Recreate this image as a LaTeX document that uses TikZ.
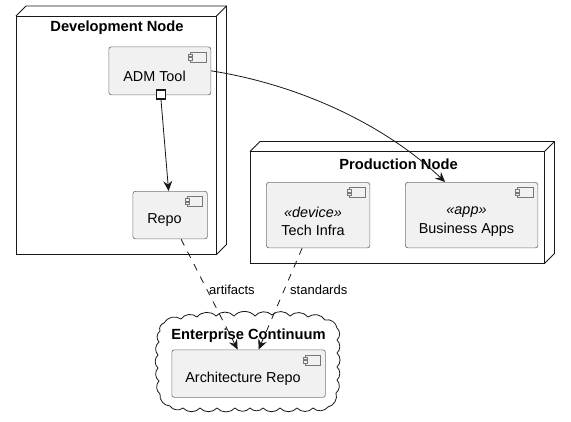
\documentclass[tikz,border=0pt]{standalone}
\usepackage{fontspec}
\setmainfont{Liberation Sans}
\usetikzlibrary{arrows.meta}
\definecolor{compfill}{HTML}{F1F1F1}
\definecolor{ink}{HTML}{181818}
\definecolor{edge}{HTML}{777777}
\tikzset{
  x=1pt,y=-1pt,
  comp/.style={draw=edge,fill=compfill,line width=0.7pt,rounded corners=2.5pt,inner sep=0pt,anchor=north west},
  ctext/.style={inner sep=0pt,font=\fontsize{14.4}{17}\selectfont},
  title/.style={inner sep=0pt,font=\fontsize{14.7}{17}\selectfont\bfseries},
  lab/.style={inner sep=0pt,font=\fontsize{13}{15}\selectfont},
  box3d/.style={draw=ink,line width=0.8pt,line join=miter},
  conn/.style={draw=ink,line width=0.8pt,-{Stealth[length=10pt,width=9pt,inset=3.5pt]}},
  dashconn/.style={conn,dash pattern=on 7pt off 7pt},
  iconline/.style={draw=edge,line width=0.7pt,fill=compfill},
  bump/.style={bend left=48},
}
\newcommand{\compicon}[1]{%
  \draw[iconline] ([shift={(-20.5,5.5)}]#1.north east) rectangle ([shift={(-5,15.5)}]#1.north east);
  \draw[iconline] ([shift={(-22.5,7.5)}]#1.north east) rectangle ([shift={(-18.5,10)}]#1.north east);
  \draw[iconline] ([shift={(-22.5,11)}]#1.north east) rectangle ([shift={(-18.5,13.5)}]#1.north east);
}
\newcommand{\nodebox}[4]{%
  \draw[box3d,fill=white] (#1,#2) rectangle (#3,#4);
  \draw[box3d] (#1,#2) -- (#1+10,#2-10) -- (#3+10,#2-10) -- (#3+10,#4-10) -- (#3,#4);
  \draw[box3d] (#3,#2) -- (#3+10,#2-10);
}
\begin{document}
\begin{tikzpicture}
\useasboundingbox (0,0) rectangle (571,421);
\fill[white] (0,0) rectangle (571,421);
% containers
\nodebox{16}{16}{216.5}{254.5}
\nodebox{250}{151.5}{544.5}{263.5}
% cloud
\draw[draw=ink,line width=0.8pt,fill=white]
  (164,323) to[bump] (181,319) to[bump] (197,317) to[bump] (216,316)
  to[bump] (234,316) to[bump] (255,316) to[bump] (272,315)
  to[bump] (290,316) to[bump] (308,317) to[bump] (325,320)
  to[bump] (337,328) to[bump] (337,340) to[bump] (337,353)
  to[bump] (337,367) to[bump] (337,380) to[bump] (336,393)
  to[bump] (328,407) to[bump] (313,408) to[bump] (297,408)
  to[bump] (280,408) to[bump] (263,408) to[bump] (250,408)
  to[bump] (235,408) to[bump] (217,408) to[bump] (200,408)
  to[bump] (183,408) to[bump] (170,406) to[bump] (160,394)
  to[bump] (159,381) to[bump] (158,368) to[bump] (158,355)
  to[bump] (159,342) to[bump] (160,331) to[bump] (164,323) -- cycle;
% titles
\node[title] (devtitle) at (117,28) {Development Node};
\node[title] (prodtitle) at (398.5,164) {Production Node};
\node[title] (enttitle) at (248.5,336) {Enterprise Continuum};
% components
\node[comp,minimum width=102pt,minimum height=48pt] (adm) at (108.5,46.5) {};
\node[comp,minimum width=74.5pt,minimum height=47.5pt] (repo) at (132.5,191) {};
\node[comp,minimum width=103.5pt,minimum height=65.5pt] (tech) at (266,182) {};
\node[comp,minimum width=132.5pt,minimum height=65.5pt] (biz) at (405,182) {};
\node[comp,minimum width=153.5pt,minimum height=47.5pt] (arch) at (171.5,349.5) {};
\compicon{adm}\compicon{repo}\compicon{tech}\compicon{biz}\compicon{arch}
\node[ctext] (admtext) at (154.5,76.5) {ADM Tool};
\node[ctext] (repotext) at (164.5,220) {Repo};
\node[ctext] (techst) at (313,212) {\itshape «device»};
\node[ctext] (techtext) at (313,230) {Tech Infra};
\node[ctext] (bizst) at (466.5,212) {\itshape «app»};
\node[ctext] (biztext) at (466.5,230) {Business Apps};
\node[ctext] (archtext) at (243,379) {Architecture Repo};
% labels
\node[lab,anchor=west] (artlab) at (209,289.5) {artifacts};
\node[lab,anchor=west] (stdlab) at (290,289.5) {standards};
% connectors
\node[draw=ink,fill=white,line width=1.4pt,minimum size=9pt,inner sep=0pt] (port) at (161,94.5) {};
\draw[conn] (port.south) -- ([xshift=-1.5pt]repo.north);
\draw[conn] (adm.east) .. controls +(89,14) and +(-60,-57) .. ([xshift=-26.5pt]biz.north);
\draw[dashconn] ([xshift=11pt]repo.south) -- ([xshift=-11pt]arch.north);
\draw[dashconn] ([xshift=-16pt]tech.south) -- ([xshift=10pt]arch.north);
\end{tikzpicture}
\end{document}
